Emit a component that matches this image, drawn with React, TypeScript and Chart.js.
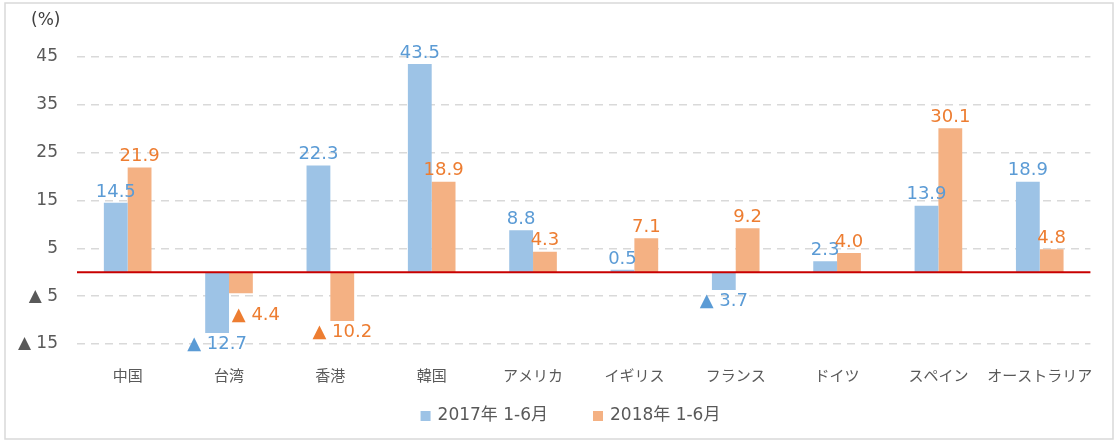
import React, { useEffect, useRef } from "react";
import { Chart, registerables } from "chart.js";

Chart.register(...registerables);

const categories = ["中国", "台湾", "香港", "韓国", "アメリカ", "イギリス", "フランス", "ドイツ", "スペイン", "オーストラリア"];
const series2017 = [14.5, -12.7, 22.3, 43.5, 8.8, 0.5, -3.7, 2.3, 13.9, 18.9];
const series2018 = [21.9, -4.4, -10.2, 18.9, 4.3, 7.1, 9.2, 4.0, 30.1, 4.8];
const seriesNames = ["2017年 1-6月", "2018年 1-6月"];
const yTickValues = [-15, -5, 5, 15, 25, 35, 45];
const yMin = -15;
const yMax = 50;
const unitLabel = "(%)";

const barColors = ["#9DC3E6", "#F4B183"];
const labelColors = ["#5B9BD5", "#ED7D31"];
const textGrey = "#595959";
const numFont = "'DejaVu Sans', 'Noto Sans CJK JP', sans-serif";
const jpFont = "'Noto Sans CJK JP', 'DejaVu Sans', sans-serif";

// label placement tweak (dataset index, point index) -> shift from default spot
const labelNudge: Record<string, [number, number]> = { "1-1": [15, 11] };

const fmtValue = (v: number) => (v < 0 ? "▲ " + Math.abs(v).toFixed(1) : v.toFixed(1));
const fmtTick = (v: number) => (v < 0 ? "▲ " + Math.abs(v) : String(v));

const decorPlugin = {
  id: "decor",
  beforeDraw(chart: any) {
    const ctx = chart.ctx;
    ctx.save();
    ctx.strokeStyle = "#D9D9D9";
    ctx.lineWidth = 1.5;
    ctx.strokeRect(5, 3, chart.width - 7, chart.height - 5);
    ctx.restore();
  },
  afterDatasetsDraw(chart: any) {
    const ctx = chart.ctx;
    const area = chart.chartArea;
    const y0 = chart.scales.y.getPixelForValue(0);
    ctx.save();
    ctx.strokeStyle = "#C80000";
    ctx.lineWidth = 2;
    ctx.beginPath();
    ctx.moveTo(area.left, y0);
    ctx.lineTo(area.right, y0);
    ctx.stroke();

    ctx.font = `18px ${numFont}`;
    ctx.textAlign = "center";
    ctx.textBaseline = "middle";
    chart.data.datasets.forEach((ds: any, di: number) => {
      const meta = chart.getDatasetMeta(di);
      meta.data.forEach((el: any, i: number) => {
        const v = ds.data[i];
        const nudge = labelNudge[`${di}-${i}`] || [0, 0];
        const y = (v >= 0 ? el.y - 11 : el.y + 11) + nudge[1];
        ctx.fillStyle = labelColors[di];
        ctx.fillText(fmtValue(v), el.x + nudge[0], y);
      });
    });
    ctx.restore();
  },
  afterDraw(chart: any) {
    const ctx = chart.ctx;
    ctx.save();
    ctx.font = `17px ${numFont}`;
    ctx.fillStyle = "#404040";
    ctx.textAlign = "left";
    ctx.textBaseline = "middle";
    ctx.fillText(unitLabel, 31, 21);

    // legend
    ctx.font = `17px ${numFont}`;
    const box = 10;
    const gapBoxText = 7;
    const gapItems = 45;
    const widths = seriesNames.map((n) => ctx.measureText(n).width);
    const total = widths.reduce((a, w) => a + box + gapBoxText + w, 0) + gapItems * (seriesNames.length - 1);
    let x = chart.width / 2 + 13 - total / 2;
    const ly = 416;
    seriesNames.forEach((n, i) => {
      ctx.fillStyle = barColors[i];
      ctx.fillRect(x, ly - box / 2, box, box);
      x += box + gapBoxText;
      ctx.fillStyle = textGrey;
      ctx.fillText(n, x, ly);
      x += widths[i] + gapItems;
    });
    ctx.restore();
  },
};

export default function App() {
  const ref = useRef<HTMLCanvasElement | null>(null);

  useEffect(() => {
    if (!ref.current) return;
    const chart = new Chart(ref.current, {
      type: "bar",
      data: {
        labels: categories,
        datasets: [
          { label: seriesNames[0], data: series2017, backgroundColor: barColors[0], borderWidth: 0 },
          { label: seriesNames[1], data: series2018, backgroundColor: barColors[1], borderWidth: 0 },
        ],
      },
      options: {
        responsive: false,
        animation: false,
        devicePixelRatio: 1,
        layout: { padding: { left: 0, right: 15, top: 33, bottom: 37 } },
        datasets: { bar: { categoryPercentage: 0.47, barPercentage: 1 } },
        plugins: {
          legend: { display: false },
          tooltip: { enabled: false },
        },
        scales: {
          x: {
            grid: { display: false, drawTicks: false },
            border: { display: false },
            ticks: {
              color: textGrey,
              font: { size: 15, family: jpFont },
              padding: 22,
              maxRotation: 0,
              minRotation: 0,
              autoSkip: false,
            },
            afterFit: (s: any) => {
              s.height = 60;
            },
          },
          y: {
            min: yMin,
            max: yMax,
            grid: {
              color: "#D9D9D9",
              lineWidth: 1.5,
              drawTicks: false,
            },
            border: { display: false, dash: [8, 6] },
            ticks: {
              color: textGrey,
              font: { size: 17, family: numFont },
              padding: 19,
              callback: (v: any) => fmtTick(Number(v)),
            },
            afterBuildTicks: (s: any) => {
              s.ticks = yTickValues.map((v) => ({ value: v }));
            },
            afterFit: (s: any) => {
              s.width = 77;
            },
          },
        },
      },
      plugins: [decorPlugin],
    } as any);
    return () => chart.destroy();
  }, []);

  return (
    <div style={{ position: "fixed", left: 0, top: 0, width: 1115, height: 441, background: "#fff" }}>
      <canvas ref={ref} width={1115} height={441} />
    </div>
  );
}
